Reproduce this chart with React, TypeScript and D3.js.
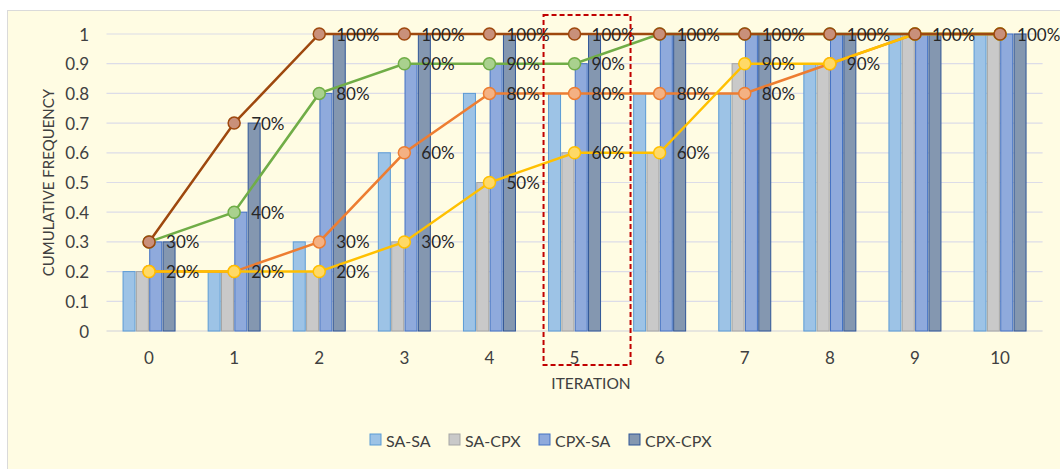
import React from "react";
import * as d3 from "d3";

const iterations = ["0", "1", "2", "3", "4", "5", "6", "7", "8", "9", "10"];
const seriesNames = ["SA-SA", "SA-CPX", "CPX-SA", "CPX-CPX"];
const saSa = [0.2, 0.2, 0.3, 0.6, 0.8, 0.8, 0.8, 0.8, 0.9, 1, 1];
const saCpx = [0.2, 0.2, 0.2, 0.3, 0.5, 0.6, 0.6, 0.9, 0.9, 1, 1];
const cpxSa = [0.3, 0.4, 0.8, 0.9, 0.9, 0.9, 1, 1, 1, 1, 1];
const cpxCpx = [0.3, 0.7, 1, 1, 1, 1, 1, 1, 1, 1, 1];
const yTicks = [0, 0.1, 0.2, 0.3, 0.4, 0.5, 0.6, 0.7, 0.8, 0.9, 1];
const highlighted = "5";

const seriesValues = [saSa, saCpx, cpxSa, cpxCpx];
const barFill = ["#9DC3E6", "#C9C9C9", "#8FAADC", "#8497B0"];
const barStroke = ["#5B9BD5", "#A5A5A5", "#4472C4", "#2F5597"];
const lineColor = ["#ED7D31", "#FFC000", "#70AD47", "#9E480E"];
const markerFill = ["#F4B183", "#FFD966", "#A9D18E", "#C9907A"];

const W = 1060;
const H = 469;
const FONT = "Lato, 'Open Sans', sans-serif";

export default function App() {
  const x = d3
    .scaleBand<string>()
    .domain(iterations)
    .range([106.5, 1042.6])
    .paddingInner(0.389)
    .paddingOuter(0.1945);
  const xi = d3
    .scaleBand<string>()
    .domain(seriesNames)
    .range([0, x.bandwidth()])
    .paddingInner(0.1);
  const y = d3.scaleLinear().domain([0, 1]).range([331, 34]);
  const cx = (c: string) => (x(c) as number) + x.bandwidth() / 2;
  const line = d3
    .line<number>()
    .x((_, i) => cx(iterations[i]))
    .y((d) => y(d));

  const hlX0 = cx(highlighted) - 31;
  const hlX1 = cx(highlighted) + 56;

  const legendX = [370, 449, 539, 629];

  const seen = new Set<string>();
  const labels: { key: string; c: string; v: number }[] = [];
  seriesValues.forEach((vals, si) =>
    vals.forEach((v, ci) => {
      const k = iterations[ci] + "_" + v;
      if (!seen.has(k)) {
        seen.add(k);
        labels.push({ key: si + "_" + ci, c: iterations[ci], v });
      }
    })
  );

  return (
    <svg
      width={W}
      height={H}
      style={{ position: "absolute", left: 0, top: 0, display: "block" }}
      fontFamily={FONT}
    >
      <rect x={0} y={0} width={W} height={H} fill="#ffffff" />
      <rect x={7.5} y={10.5} width={W} height={H} fill="#FFFCE3" stroke="#DADADA" />
      {yTicks.map((t) => (
        <line
          key={"g" + t}
          x1={106.5}
          x2={1042.6}
          y1={y(t)}
          y2={y(t)}
          stroke={t === 0 ? "#D0D0DA" : "#DCDCE8"}
          strokeWidth={1.2}
        />
      ))}
      {yTicks.map((t) => (
        <text
          key={"t" + t}
          x={89}
          y={y(t)}
          textAnchor="end"
          dominantBaseline="central"
          fontSize={17}
          fill="#404040"
        >
          {t}
        </text>
      ))}
      {iterations.map((c) => (
        <text
          key={"x" + c}
          x={cx(c)}
          y={357}
          textAnchor="middle"
          dominantBaseline="central"
          fontSize={17}
          fill="#404040"
        >
          {c}
        </text>
      ))}
      <text x={591} y={383} textAnchor="middle" dominantBaseline="central" fontSize={15.5} fill="#404040">
        ITERATION
      </text>
      <text
        transform={`translate(48,${(y(0) + y(1)) / 2}) rotate(-90)`}
        textAnchor="middle"
        dominantBaseline="central"
        fontSize={15}
        fill="#404040"
      >
        CUMULATIVE FREQUENCY
      </text>
      {seriesNames.map((s, si) =>
        iterations.map((c, ci) => (
          <rect
            key={s + c}
            x={(x(c) as number) + (xi(s) as number)}
            y={y(seriesValues[si][ci])}
            width={xi.bandwidth()}
            height={y(0) - y(seriesValues[si][ci])}
            fill={barFill[si]}
            stroke={barStroke[si]}
            strokeWidth={1}
          />
        ))
      )}
      {seriesNames.map((s, si) => (
        <g key={"l" + s}>
          <path d={line(seriesValues[si]) as string} fill="none" stroke={lineColor[si]} strokeWidth={2.5} />
          {seriesValues[si].map((v, ci) => (
            <circle
              key={ci}
              cx={cx(iterations[ci])}
              cy={y(v)}
              r={6}
              fill={markerFill[si]}
              stroke={lineColor[si]}
              strokeWidth={1.5}
            />
          ))}
        </g>
      ))}
      {labels.map((l) => (
        <text
          key={"lab" + l.key}
          x={cx(l.c) + 17}
          y={y(l.v)}
          dominantBaseline="central"
          fontSize={17}
          fill="#262626"
        >
          {Math.round(l.v * 100) + "%"}
        </text>
      ))}
      <rect
        x={hlX0}
        y={y(1) - 19}
        width={hlX1 - hlX0}
        height={y(0) - y(1) + 53}
        fill="none"
        stroke="#C00000"
        strokeWidth={2}
        strokeDasharray="5,3"
      />
      {seriesNames.map((s, si) => (
        <g key={"leg" + s}>
          <rect
            x={legendX[si]}
            y={434}
            width={11}
            height={11}
            fill={barFill[si]}
            stroke={barStroke[si]}
            strokeWidth={1}
          />
          <text x={legendX[si] + 16} y={440} dominantBaseline="central" fontSize={16} fill="#404040">
            {s}
          </text>
        </g>
      ))}
    </svg>
  );
}
